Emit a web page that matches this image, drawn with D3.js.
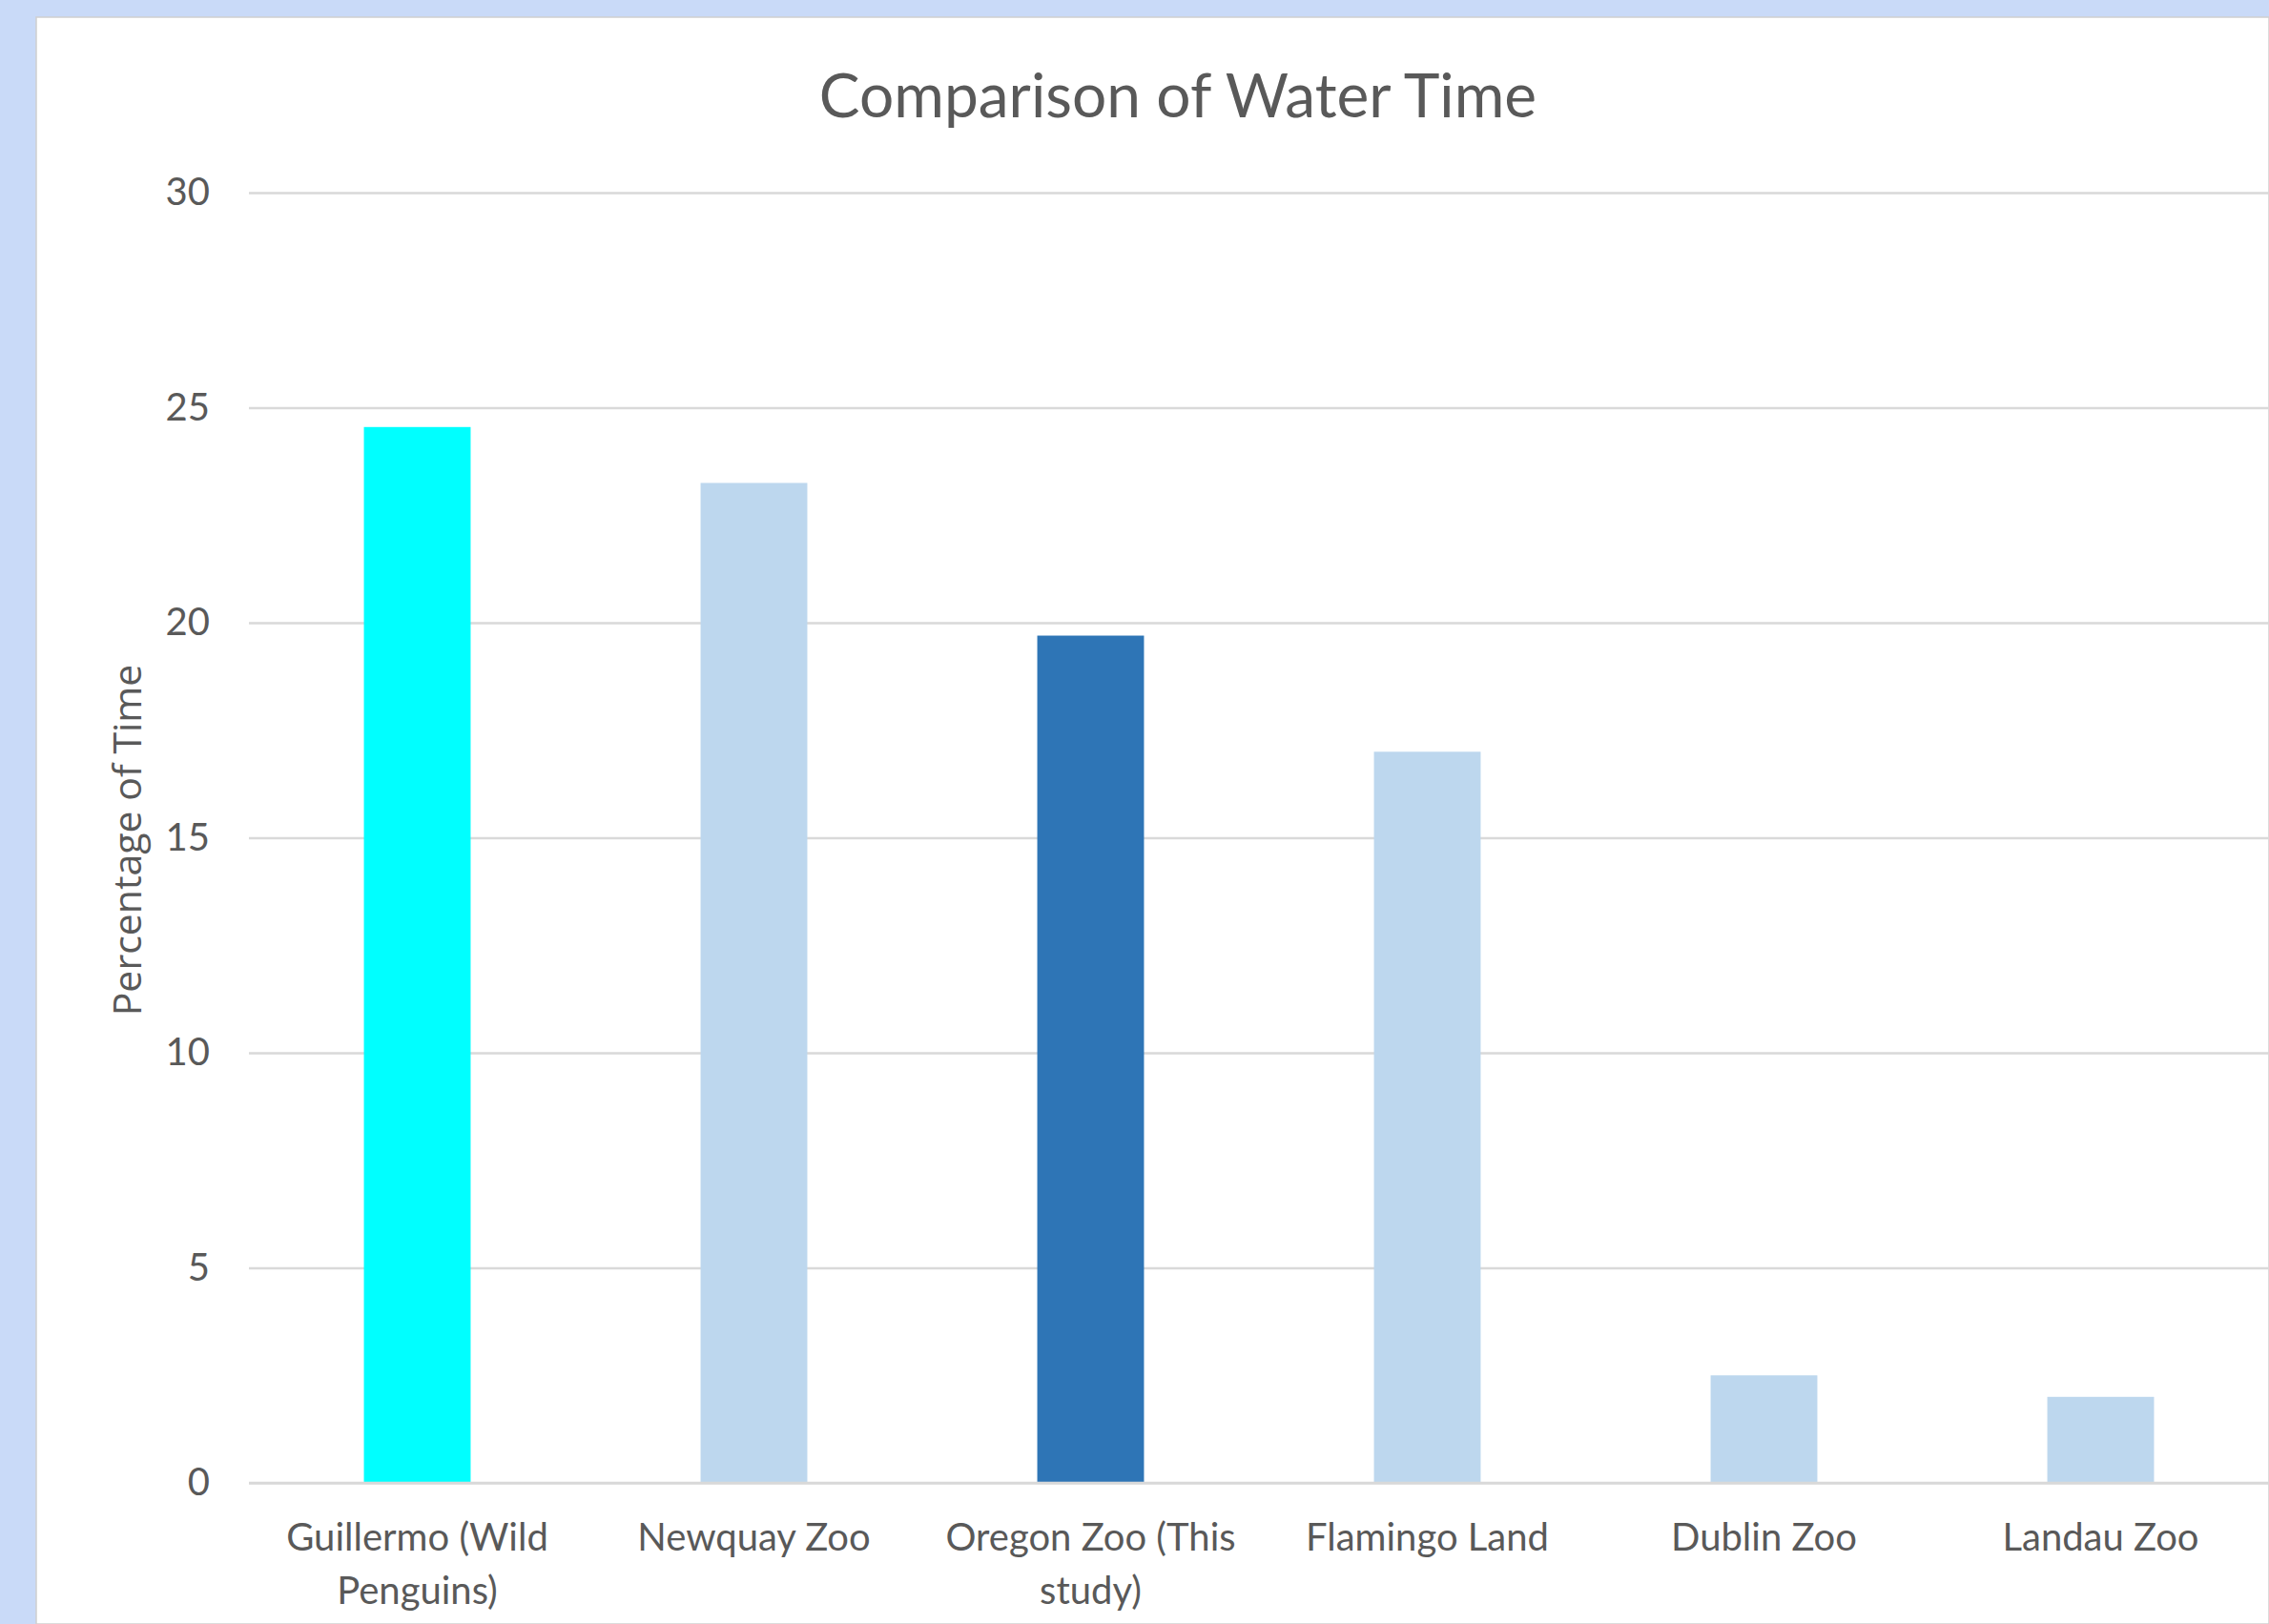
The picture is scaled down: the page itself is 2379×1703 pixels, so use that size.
<!DOCTYPE html>
<html lang="en">
<head>
    <meta charset="UTF-8">
    <title>Comparison of Water Time</title>
    <script src="https://d3js.org/d3.v7.min.js"></script>
    <style>
        html,body{margin:0;padding:0;background:#c9daf8;}
        svg{display:block;}
    </style>
</head>
<body>
<script>
    // data
    var categories=["Guillermo (Wild Penguins)","Newquay Zoo","Oregon Zoo (This study)","Flamingo Land","Dublin Zoo","Landau Zoo"];
    var labelLines=[["Guillermo (Wild","Penguins)"],["Newquay Zoo"],["Oregon Zoo (This","study)"],["Flamingo Land"],["Dublin Zoo"],["Landau Zoo"]];
    var values=[24.55,23.25,19.7,17.0,2.5,2.0];
    var barColors=["#00ffff","#bdd7ee","#2e75b6","#bdd7ee","#bdd7ee","#bdd7ee"];
    var yTicks=[0,5,10,15,20,25,30];

    var width=2379;
    var height=1703;
    var textColor="#595959";

    var svg=d3.select("body").append("svg").attr("width",width).attr("height",height);

    // white chart panel on the blue page
    svg.append("rect")
        .attr("x",38).attr("y",18)
        .attr("width",width-38).attr("height",height-18)
        .attr("fill","#ffffff")
        .attr("stroke","#d0d0d0").attr("stroke-width",1.5);

    // title
    svg.append("text")
        .attr("x",1235).attr("y",123)
        .attr("text-anchor","middle")
        .attr("font-family","Lato, 'Open Sans', sans-serif")
        .attr("font-size",64)
        .attr("fill",textColor)
        .text("Comparison of Water Time");

    // scales
    var xScale=d3.scaleBand().domain(categories)
        .range([261,2379])
        .paddingInner(0.683)
        .paddingOuter(0.3415);
    var yScale=d3.scaleLinear().domain([0,30]).range([1555,202]);

    // y axis: gridlines + labels
    var yAxis=d3.axisLeft(yScale)
        .tickValues(yTicks)
        .tickSize(-(2379-261))
        .tickPadding(41);
    var gy=svg.append("g")
        .attr("transform","translate(261,0)")
        .call(yAxis);
    gy.select(".domain").remove();
    gy.selectAll(".tick line")
        .attr("stroke","#d9d9d9")
        .attr("stroke-width",2.5);
    gy.selectAll(".tick text")
        .attr("fill",textColor)
        .attr("font-family","Lato, 'Open Sans', sans-serif")
        .attr("font-size",40);

    // bars
    svg.selectAll("rect.bar")
        .data(values)
        .enter()
        .append("rect")
        .attr("class","bar")
        .attr("x",function(d,i){ return xScale(categories[i]); })
        .attr("width",xScale.bandwidth())
        .attr("y",function(d){ return yScale(d); })
        .attr("height",function(d){ return yScale(0)-yScale(d); })
        .attr("fill",function(d,i){ return barColors[i]; });

    // baseline redrawn above bars
    svg.append("line")
        .attr("x1",261).attr("x2",2379)
        .attr("y1",yScale(0)).attr("y2",yScale(0))
        .attr("stroke","#d9d9d9").attr("stroke-width",2.5);

    // x axis labels (wrapped in two lines)
    var xLabels=svg.selectAll("text.xlab")
        .data(labelLines)
        .enter()
        .append("text")
        .attr("class","xlab")
        .attr("text-anchor","middle")
        .attr("font-family","Lato, 'Open Sans', sans-serif")
        .attr("font-size",40)
        .attr("fill",textColor)
        .attr("transform",function(d,i){
            return "translate("+(xScale(categories[i])+xScale.bandwidth()/2)+",1626)";
        });
    xLabels.selectAll("tspan")
        .data(function(d){ return d; })
        .enter()
        .append("tspan")
        .attr("x",0)
        .attr("y",function(d,j){ return j*56; })
        .text(function(d){ return d; });

    // y axis title
    svg.append("text")
        .attr("transform","translate(148,881) rotate(-90)")
        .attr("text-anchor","middle")
        .attr("font-family","'Open Sans', Lato, sans-serif")
        .attr("font-size",41)
        .attr("fill",textColor)
        .text("Percentage of Time");
</script>
</body>
</html>
